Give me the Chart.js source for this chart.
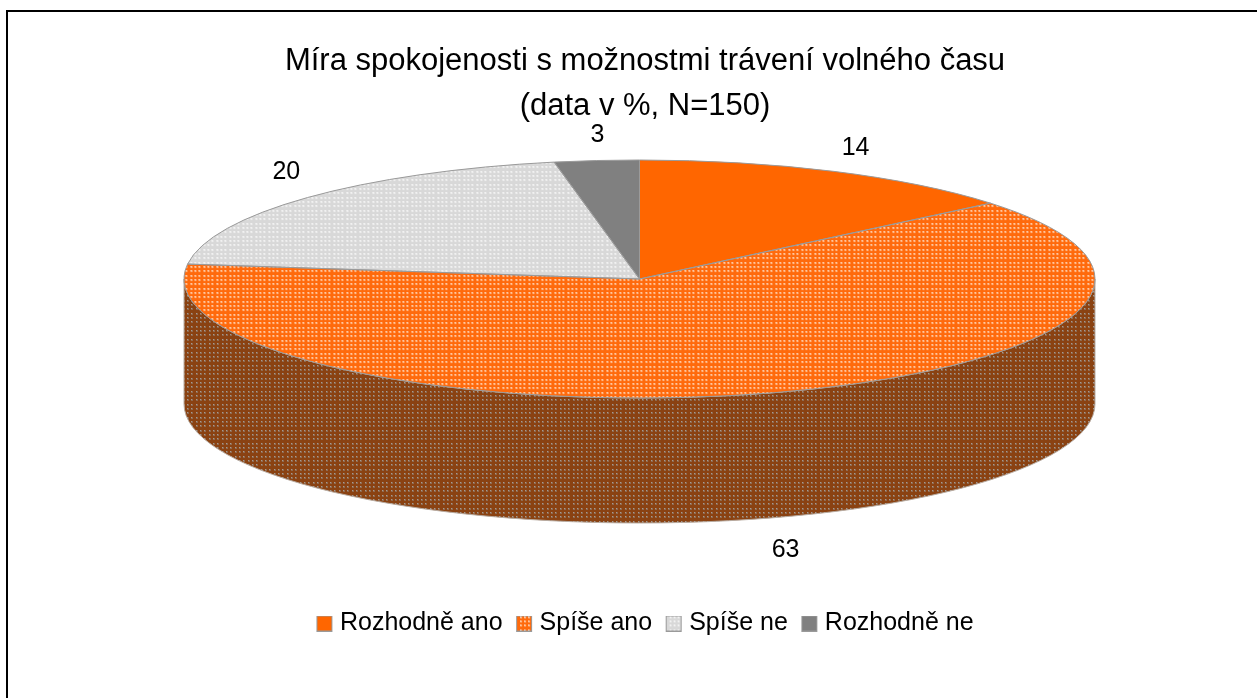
<!DOCTYPE html>
<html><head><meta charset="utf-8">
<style>html,body{margin:0;padding:0;background:#fff;overflow:hidden}canvas{display:block}</style>
<script src="https://cdn.jsdelivr.net/npm/chart.js@4"></script>
</head><body>
<canvas id="c" width="1257" height="698"></canvas>
<script>
const categories = ['Rozhodně ano', 'Spíše ano', 'Spíše ne', 'Rozhodně ne'];
const seriesValues = [14, 63, 20, 3];
const titleLines = ['Míra spokojenosti s možnostmi trávení volného času', '(data v %, N=150)'];

const FONT = '"Liberation Sans", Arial, sans-serif';
const PIE = {cx: 639.5, cy: 279, rx: 455.5, ry: 119, depth: 125};
const SQUASH = PIE.ry / PIE.rx;
const EDGE = '#9a9a9a';
const labelGapX = [52, 68, 29, -8];
const labelGapY = [26, 33, 37, 26];

function dotted(base, dot, core) {
  const t = document.createElement('canvas');
  t.width = t.height = 13;
  const g = t.getContext('2d');
  g.fillStyle = base; g.fillRect(0, 0, 13, 13);
  for (const y of [1, 5, 9]) for (const x of [1, 5, 9]) {
    g.fillStyle = dot; g.fillRect(x, y, 2, 2);
    g.fillStyle = core; g.fillRect(x, y, 1, 1);
  }
  return t;
}
const ctx0 = document.getElementById('c').getContext('2d');
const tiles = [
  null,
  dotted('#ff6a0c', '#ffb480', '#fff4ec'),
  dotted('#d8d8d8', '#ececec', '#ffffff'),
  null
];
const darkTile = dotted('#8a4212', '#8f6a50', '#a89a90');
function pat(tile, sy) {
  const p = ctx0.createPattern(tile, 'repeat');
  p.setTransform(new DOMMatrix().scale(1, sy));
  return p;
}
const topFills = ['#ff6600', pat(tiles[1], 1 / SQUASH), pat(tiles[2], 1 / SQUASH), '#808080'];
const sideFill = pat(darkTile, 1);

// legend swatch: the library centres the image in its box, so the 15px square sits at the image's left part
function swatch(i) {
  const s = document.createElement('canvas');
  s.width = 31; s.height = 16;
  const g = s.getContext('2d');
  g.fillStyle = tiles[i] ? g.createPattern(tiles[i], 'repeat') : topFills[i];
  g.fillRect(10.5, 0.5, 15, 15);
  g.strokeStyle = EDGE; g.lineWidth = 1;
  g.strokeRect(10.5, 0.5, 15, 15);
  return s;
}

const pie3d = {
  id: 'pie3d',
  beforeDraw(chart) {
    const c = chart.ctx;
    c.save();
    c.fillStyle = '#fff'; c.fillRect(0, 0, chart.width, chart.height);
    c.fillStyle = '#000';
    c.fillRect(6, 10, chart.width - 6, 2);
    c.fillRect(6, 10, 2, chart.height - 10);
    c.restore();
  },
  beforeDatasetsDraw(chart) {
    const c = chart.ctx;
    const arcs = chart.getDatasetMeta(0).data;
    c.save();
    for (const a of arcs) {
      const {startAngle, endAngle} = a.getProps(['startAngle', 'endAngle']);
      const s = Math.max(startAngle, 0), e = Math.min(endAngle, Math.PI);
      if (e <= s) continue;
      c.beginPath();
      c.ellipse(PIE.cx, PIE.cy, PIE.rx, PIE.ry, 0, s, e);
      c.ellipse(PIE.cx, PIE.cy + PIE.depth, PIE.rx, PIE.ry, 0, e, s, true);
      c.closePath();
      c.fillStyle = sideFill;
      c.fill();
      c.strokeStyle = '#b8aca2'; c.lineWidth = 1; c.stroke();
    }
    c.restore();
    const a0 = arcs[0];
    c.save();
    c.translate(PIE.cx, PIE.cy);
    c.scale(1, SQUASH);
    c.translate(-a0.x, -a0.y);
  },
  afterDatasetsDraw(chart) {
    const c = chart.ctx;
    c.restore();
    const arcs = chart.getDatasetMeta(0).data;
    c.save();
    c.strokeStyle = EDGE; c.lineWidth = 1;
    for (const a of arcs) {
      const {startAngle, endAngle} = a.getProps(['startAngle', 'endAngle']);
      c.beginPath();
      c.moveTo(PIE.cx, PIE.cy);
      c.ellipse(PIE.cx, PIE.cy, PIE.rx, PIE.ry, 0, startAngle, endAngle);
      c.closePath();
      c.stroke();
    }
    c.fillStyle = '#000';
    c.font = '25px ' + FONT;
    c.textAlign = 'center'; c.textBaseline = 'middle';
    arcs.forEach((a, i) => {
      const {startAngle, endAngle} = a.getProps(['startAngle', 'endAngle']);
      const m = (startAngle + endAngle) / 2;
      const sn = Math.sin(m);
      const x = PIE.cx + (PIE.rx + labelGapX[i]) * Math.cos(m);
      const y = PIE.cy + (PIE.ry + labelGapY[i]) * sn + (sn > 0 ? PIE.depth : 0);
      c.fillText(String(seriesValues[i]), x, y);
    });
    c.restore();
  }
};

new Chart(document.getElementById('c'), {
  type: 'pie',
  plugins: [pie3d],
  data: {
    labels: categories,
    datasets: [{data: seriesValues, backgroundColor: topFills, borderWidth: 0, clip: false}]
  },
  options: {
    responsive: false,
    animation: false,
    radius: PIE.rx,
    layout: {padding: {left: 33, right: 0, top: 0, bottom: 52}},
    plugins: {
      tooltip: {enabled: false},
      title: {
        display: true,
        text: titleLines,
        color: '#000',
        font: {family: FONT, size: 31, weight: 'normal', lineHeight: 1.45},
        padding: {top: 39, bottom: 8}
      },
      legend: {
        position: 'bottom',
        labels: {
          color: '#000',
          font: {family: FONT, size: 25},
          usePointStyle: true,
          boxWidth: 11, boxHeight: 16, padding: 13.5,
          generateLabels: () => categories.map((t, i) => ({
            text: t, pointStyle: swatch(i), index: i, hidden: false, fontColor: '#000'
          }))
        }
      }
    }
  }
});
</script>
</body></html>
